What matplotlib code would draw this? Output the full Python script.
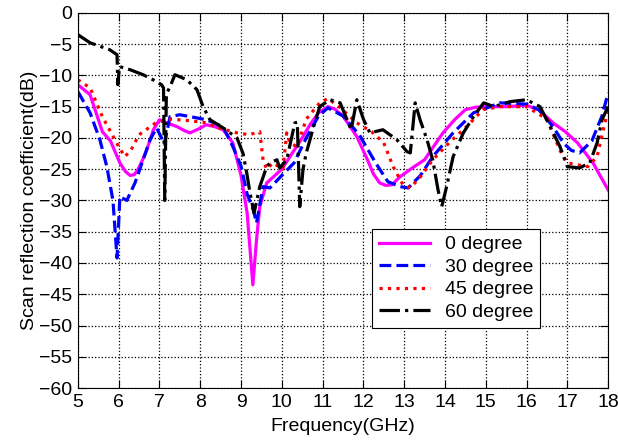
import matplotlib
matplotlib.use("Agg")
import matplotlib.pyplot as plt

# ==========================================================
# DATA
# ==========================================================
freq_0 = [5.0, 5.3, 5.6, 5.8, 6.03, 6.17, 6.28, 6.38, 6.47, 6.58, 6.69, 6.85,
          7.0, 7.18, 7.43, 7.6, 7.75, 7.95, 8.15, 8.35, 8.56, 8.8, 9.0, 9.15,
          9.29, 9.38, 9.46, 9.63, 9.8, 10.0, 10.25, 10.5, 10.7, 10.9, 11.13,
          11.3, 11.5, 11.84, 12.1, 12.25, 12.4, 12.55, 12.7, 12.9, 13.2, 13.5,
          13.95, 14.25, 14.5, 14.75, 15.0, 15.5, 16.0, 16.3, 16.65, 16.95,
          17.25, 17.63, 17.8, 18.0]
s_0 = [-11.5, -13.1, -19.0, -20.5, -24.0, -25.4, -26.0, -25.9, -25.1, -23.6,
       -21.9, -18.7, -17.1, -17.6, -18.2, -18.8, -19.2, -18.6, -17.9, -18.2,
       -18.7, -20.8, -26.0, -32.0, -43.5, -36.3, -31.0, -27.2, -26.2, -25.0,
       -22.5, -20.0, -17.8, -16.0, -15.0, -15.4, -16.5, -19.8, -23.5, -25.8,
       -27.2, -27.6, -27.5, -26.2, -24.8, -23.5, -19.2, -17.0, -15.5, -15.1,
       -15.0, -15.0, -14.8, -15.5, -17.6, -19.0, -20.8, -24.0, -26.0, -28.3]

freq_30 = [5.0, 5.3, 5.54, 5.71, 5.86, 5.96, 6.03, 6.2, 6.4, 6.6, 6.77, 6.93,
           7.05, 7.12, 7.26, 7.5, 7.75, 8.15, 8.56, 8.8, 9.0, 9.15, 9.3, 9.38,
           9.54, 9.71, 10.0, 10.3, 10.6, 10.9, 11.13, 11.5, 11.9, 12.3, 12.6,
           12.9, 13.1, 13.4, 13.7, 14.2, 14.7, 15.35, 16.0, 16.3, 16.65, 16.9,
           17.1, 17.3, 17.6, 17.85, 18.0]
s_30 = [-12.6, -16.0, -20.3, -24.6, -30.0, -39.2, -29.4, -30.0, -27.2, -23.5,
        -20.3, -18.4, -20.0, -21.0, -16.6, -16.3, -16.6, -17.1, -18.2, -21.4,
        -24.5, -29.0, -31.5, -33.6, -27.8, -28.0, -26.0, -24.0, -20.0, -16.5,
        -15.2, -16.5, -19.5, -24.0, -27.0, -27.8, -28.0, -26.0, -23.0, -19.2,
        -16.0, -14.4, -14.6, -15.5, -18.2, -20.8, -22.0, -22.4, -20.5, -16.5,
        -12.8]

freq_45 = [5.0, 5.3, 5.6, 5.95, 6.15, 6.3, 6.5, 6.93, 7.3, 7.8, 8.16, 8.5,
           8.9, 9.2, 9.46, 9.54, 9.63, 9.78, 10.03, 10.12, 10.2, 10.37, 10.6,
           10.93, 11.13, 11.4, 11.84, 12.2, 12.5, 12.73, 12.97, 13.15, 13.4,
           13.7, 14.1, 14.53, 14.93, 15.35, 16.0, 16.5, 16.82, 17.0, 17.5,
           17.73, 17.9, 18.0]
s_45 = [-10.7, -12.0, -16.6, -20.8, -23.0, -22.0, -19.5, -17.5, -17.0, -17.3,
        -17.6, -18.5, -19.2, -19.5, -19.0, -23.5, -25.0, -24.0, -25.0, -19.2,
        -20.8, -21.4, -17.0, -14.4, -13.7, -15.0, -17.6, -19.0, -20.8, -24.6,
        -27.5, -28.0, -26.2, -23.5, -20.8, -18.2, -15.5, -15.0, -15.0, -17.0,
        -22.0, -24.0, -24.6, -23.0, -18.2, -15.5]

freq_60 = [5.0, 5.3, 5.78, 5.96, 5.98, 6.02, 6.28, 6.6, 6.93, 7.05, 7.1, 7.13,
           7.17, 7.26, 7.38, 7.67, 7.92, 8.07, 8.24, 8.56, 8.9, 9.05, 9.14,
           9.22, 9.32, 9.46, 9.63, 9.71, 9.88, 9.95, 10.12, 10.32, 10.38,
           10.44, 10.52, 10.6, 10.78, 10.93, 11.18, 11.43, 11.6, 11.7, 11.84,
           12.0, 12.16, 12.48, 12.82, 13.07, 13.15, 13.27, 13.39, 13.56, 13.7,
           13.83, 13.92, 14.04, 14.2, 14.45, 14.7, 14.95, 15.2, 15.6, 16.0,
           16.33, 16.58, 16.82, 17.0, 17.3, 17.55, 17.73, 17.85, 18.0]
s_60 = [-3.5, -4.8, -5.9, -6.7, -11.5, -8.6, -9.1, -9.9, -11.0, -11.5, -12.0,
        -30.0, -13.0, -11.8, -9.9, -10.7, -12.3, -15.0, -17.1, -18.4, -20.0,
        -22.5, -25.6, -28.8, -32.0, -27.8, -24.6, -24.0, -23.5, -24.8, -23.5,
        -17.6, -17.5, -31.0, -25.0, -22.4, -18.2, -15.0, -13.9, -14.4, -17.1,
        -18.7, -13.9, -17.0, -19.2, -18.7, -20.3, -22.2, -22.4, -14.4, -17.1,
        -20.3, -23.5, -28.3, -31.0, -27.8, -23.0, -19.2, -16.6, -14.4, -15.0,
        -14.2, -13.9, -15.0, -18.2, -21.4, -24.6, -24.8, -24.0, -20.8, -17.1,
        -15.0]

x_ticks = list(range(5, 19))
y_ticks = list(range(-60, 1, 5))

# ==========================================================
# PLOT
# ==========================================================
plt.rcParams["font.family"] = ["Liberation Sans", "DejaVu Sans"]

fig = plt.figure(figsize=(6.18, 4.41), dpi=100)
ax = fig.add_axes([0.126, 0.12, 0.858, 0.851])

lw = 2.3
ax.plot(freq_0, s_0, color="#ff00ff", linestyle="-", linewidth=lw, label="0 degree")
ax.plot(freq_30, s_30, color="#0000ff", linestyle="--", linewidth=lw, label="30 degree")
ax.plot(freq_45, s_45, color="#ff0000", linestyle=":", linewidth=lw, label="45 degree")
ax.plot(freq_60, s_60, color="#000000", linestyle="-.", linewidth=lw, label="60 degree")

ax.set_xlim(5, 18)
ax.set_ylim(-60, 0)
ax.set_xticks(x_ticks)
ax.set_yticks(y_ticks)
ax.tick_params(direction="in", length=6, labelsize=14, top=True, right=True, pad=4)
ax.grid(True, color="black", linestyle=":", linewidth=0.9)

ax.set_xlabel("Frequency(GHz)", fontsize=14, labelpad=5)
ax.set_ylabel("Scan reflection coefficient(dB)", fontsize=14, labelpad=1)

leg = ax.legend(loc="upper left", bbox_to_anchor=(0.555, 0.424), borderaxespad=0,
                fontsize=14, fancybox=False, framealpha=1, edgecolor="black",
                handlelength=2.6, labelspacing=0.25, borderpad=0.35)
leg.get_frame().set_linewidth(0.8)

fig.savefig("out.png", dpi=100)
